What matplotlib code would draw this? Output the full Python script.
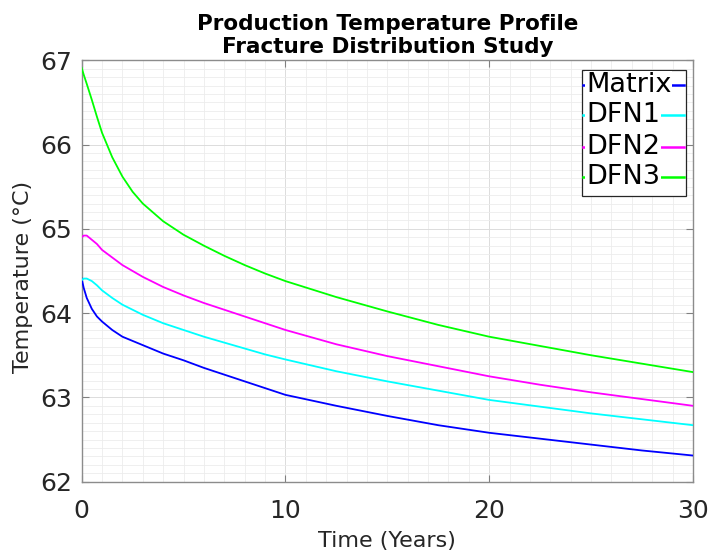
import matplotlib
matplotlib.use("Agg")
import matplotlib.pyplot as plt
from matplotlib.lines import Line2D
from matplotlib.patches import Rectangle

# Production temperature (°C) versus time (years)
time_years = [0, 0.1, 0.25, 0.5, 0.75, 1, 1.5, 2, 2.5, 3, 4, 5, 6, 7, 8, 9, 10,
              12.5, 15, 17.5, 20, 22.5, 25, 27.5, 30]
matrix = [64.41, 64.30, 64.18, 64.05, 63.96, 63.90, 63.80, 63.72, 63.67, 63.62,
          63.52, 63.44, 63.35, 63.27, 63.19, 63.11, 63.03,
          62.90, 62.78, 62.67, 62.58, 62.51, 62.44, 62.37, 62.31]
dfn1 = [64.39, 64.41, 64.41, 64.38, 64.33, 64.27, 64.18, 64.10, 64.04, 63.98,
        63.88, 63.80, 63.72, 63.65, 63.58, 63.51, 63.45,
        63.31, 63.19, 63.08, 62.97, 62.89, 62.81, 62.74, 62.67]
dfn2 = [64.90, 64.92, 64.92, 64.87, 64.82, 64.75, 64.66, 64.57, 64.50, 64.43,
        64.31, 64.21, 64.12, 64.04, 63.96, 63.88, 63.80,
        63.63, 63.49, 63.37, 63.25, 63.15, 63.06, 62.98, 62.90]
dfn3 = [66.91, 66.83, 66.72, 66.53, 66.33, 66.14, 65.85, 65.62, 65.44, 65.30,
        65.09, 64.93, 64.80, 64.68, 64.57, 64.47, 64.38,
        64.19, 64.02, 63.86, 63.72, 63.61, 63.50, 63.40, 63.30]

series_names = ["Matrix", "DFN1", "DFN2", "DFN3"]
series_values = [matrix, dfn1, dfn2, dfn3]
series_colors = ["#0000ff", "#00ffff", "#ff00ff", "#00ff00"]

x_ticks = [0, 10, 20, 30]
y_ticks = [62, 63, 64, 65, 66, 67]

fig = plt.figure(figsize=(7.10, 5.53), dpi=100)
ax = fig.add_axes([0.115, 0.129, 0.861, 0.762])

for name, vals, col in zip(series_names, series_values, series_colors):
    ax.plot(time_years, vals, color=col, lw=1.3, label=name, zorder=3)

ax.set_xlim(0, 30)
ax.set_ylim(62, 67)
ax.set_xticks(x_ticks)
ax.set_yticks(y_ticks)
ax.set_xticks(range(0, 31), minor=True)
ax.set_yticks([62 + 0.1 * i for i in range(51)], minor=True)

ax.grid(which="major", color="#dcdcdc", lw=0.7, zorder=0)
ax.grid(which="minor", color="#ececec", lw=0.6, zorder=0)
ax.set_axisbelow(True)

ax.tick_params(which="major", direction="in", length=5, width=0.8,
               color="#808080", labelsize=18, labelcolor="#262626",
               top=True, right=True)
ax.tick_params(axis="x", which="major", pad=12.5)
ax.tick_params(axis="y", which="major", pad=7)
ax.tick_params(which="minor", length=0, top=True, right=True)
for sp in ax.spines.values():
    sp.set_color("#8c8c8c")
    sp.set_linewidth(1.0)

ax.set_xlabel("Time (Years)", fontsize=16, color="#262626", va="center")
ax.xaxis.set_label_coords(0.5, -0.1407)
ax.set_ylabel("Temperature (°C)", fontsize=16, color="#262626", va="center")
ax.yaxis.set_label_coords(-0.096, 0.485)
ax.set_title("Production Temperature Profile\nFracture Distribution Study",
             fontsize=15.5, fontweight="bold", color="black", pad=5,
             linespacing=1.2)

# Legend box, drawn in axes coordinates
box_x0, box_x1 = 0.818, 0.9885
box_y0, box_y1 = 0.678, 0.977
ax.add_patch(Rectangle((box_x0, box_y0), box_x1 - box_x0, box_y1 - box_y0,
                       transform=ax.transAxes, facecolor="white",
                       edgecolor="#262626", lw=0.9, zorder=5))
row_y = [0.941, 0.870, 0.794, 0.722]
for name, col, yy in zip(series_names, series_colors, row_y):
    ax.add_line(Line2D([box_x0 + 0.002, box_x1 - 0.003], [yy, yy],
                       transform=ax.transAxes, color=col, lw=1.8, zorder=6))
    ax.text(box_x0 + 0.007, yy, name, transform=ax.transAxes, fontsize=19.5,
            color="black", va="center", ha="left", zorder=7,
            bbox=dict(facecolor="white", edgecolor="none", pad=0.5))

fig.savefig("out.png", dpi=100)
